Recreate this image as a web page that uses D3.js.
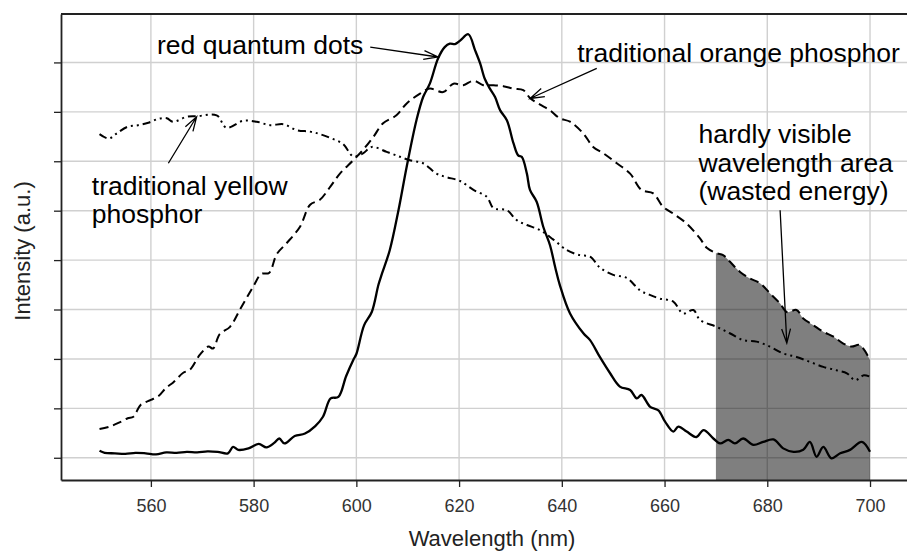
<!DOCTYPE html>
<html>
<head>
<meta charset="utf-8">
<script src="https://cdn.jsdelivr.net/npm/d3@7"></script>
<style>
  body{margin:0;background:#fff;}
  svg{display:block;font-family:"Liberation Sans",Arial,sans-serif;}
</style>
</head>
<body>
<svg id="chart" width="907" height="553"></svg>
<script>
// red quantum dots (solid)
const qdWl=[550,551,553,555,557,559,561,563,565,567,569,571,573,575,576,577,579,581,582.5,584,585,586,588,590,592,593.5,595,596.5,598,599.4,600,601.5,603,604.3,605,606.5,608.2,609.8,611.7,613,614.3,615.9,617.2,618.2,619.2,620.2,621.8,623.1,624.1,625,626,627,628,629.3,630.6,631.5,632.2,633.2,633.8,635.1,636.4,637.7,638.7,639.6,641.6,644.2,645.5,647.4,649.4,651.3,653.3,654.6,655.5,657.2,658.8,660.1,661.7,662.7,664.3,666.2,667.6,669.5,670.8,672.4,673.7,675.3,677.3,679.2,681.2,683.1,685.1,687,688.3,689.6,690.9,692.5,694.2,696.1,698.4,700];
const qdI=[0.14,0.1,0.09,0.08,0.1,0.09,0.07,0.11,0.1,0.12,0.11,0.13,0.12,0.09,0.22,0.16,0.19,0.28,0.21,0.3,0.39,0.29,0.44,0.49,0.64,0.83,1.2,1.23,1.65,1.98,2.1,2.68,2.95,3.5,3.73,4.2,5.01,5.89,6.83,7.3,7.57,8.08,8.31,8.38,8.37,8.44,8.57,8.25,7.98,7.67,7.47,7.3,7.03,6.83,6.36,6.12,6.09,5.75,5.42,5.18,4.67,4.3,3.86,3.5,2.92,2.52,2.38,2.04,1.71,1.44,1.37,1.2,1.27,1.03,0.96,0.73,0.53,0.63,0.53,0.42,0.56,0.39,0.29,0.36,0.29,0.39,0.26,0.32,0.37,0.19,0.12,0.16,0.32,0.02,0.22,-0.01,0.09,0.16,0.32,0.12];

// traditional orange phosphor (dashed)
const orWl=[550,552,554,555.5,556.6,558,560,561.5,563,564.3,566.3,567.6,569.5,571.2,572.1,573.4,575.4,577.3,579.9,581.5,583,584.5,586.4,589,591,592.9,594.9,596.8,599.4,601.3,603.3,605.2,607.8,609.8,612.4,614.3,616.9,618.9,620.8,622.8,624.7,626.7,628.6,630.6,632.5,633.8,635.7,637.7,639.6,641.6,644.2,646.1,648.1,650.7,653.3,655.5,657.8,659.7,661.7,664.3,666.9,668.2,670.1,671.4,672.7,674.7,676.6,678.6,680.5,682.5,683.8,685.7,687,689,690.9,692.9,694.8,696.4,698,700];
const orI=[0.58,0.63,0.72,0.8,0.83,1.07,1.17,1.25,1.42,1.52,1.72,1.78,2.08,2.25,2.21,2.5,2.65,2.99,3.46,3.72,3.74,4.12,4.34,4.67,5.12,5.22,5.48,5.75,6.02,6.23,6.49,6.77,6.93,7.17,7.37,7.47,7.4,7.57,7.54,7.63,7.54,7.54,7.52,7.47,7.44,7.28,7.15,7.03,6.87,6.8,6.56,6.29,6.16,5.96,5.75,5.42,5.35,5.08,4.94,4.74,4.44,4.25,4.14,4.1,3.97,3.76,3.63,3.53,3.33,3.12,2.95,2.99,2.82,2.68,2.55,2.45,2.31,2.25,2.28,1.98];

// traditional yellow phosphor (dot-dash)
const ylWl=[550,551.8,553.3,555.5,557.5,559.5,561.5,563.1,564.3,567,568.9,572.8,574.7,578,580.6,583.2,585.8,588.4,591,592.9,595.2,597.4,599.4,601.3,603,605.9,608.5,610.4,613,615.6,617.5,620.2,622.8,625.4,626.7,629.3,631.2,633.2,635.7,638.3,641,643.5,645.5,647.4,650,652.6,655.2,657,659.1,661.7,663.6,665.6,666.9,670.1,672.7,675.3,677.9,680.5,683.1,685.7,688.3,690.9,693.5,695.5,697.1,698.8,700];
const ylI=[6.55,6.46,6.56,6.7,6.73,6.78,6.86,6.87,6.8,6.9,6.91,6.93,6.68,6.82,6.8,6.73,6.75,6.63,6.6,6.55,6.46,6.35,6.1,6.16,6.29,6.19,6.09,6.02,5.96,5.75,5.68,5.6,5.42,5.28,5.05,5.01,4.81,4.71,4.61,4.42,4.2,4.1,4.07,3.85,3.7,3.64,3.39,3.3,3.22,3.16,2.92,2.99,2.79,2.65,2.52,2.38,2.35,2.25,2.11,2.04,1.94,1.84,1.77,1.71,1.57,1.67,1.64];

const xTicks=[560,580,600,620,640,660,680,700];
const yTicks=[0,1,2,3,4,5,6,7,8];
const shadeRange=[670,700];

const svg=d3.select("#chart");
const L=61,R=907,T=14,B=480;
const x=d3.scaleLinear().domain([542.5,707.2]).range([L,R]);
const y=d3.scaleLinear().domain([-0.45,8.98]).range([B,T]);

// grid
svg.append("g").selectAll("line").data(xTicks).join("line")
  .attr("x1",d=>x(d)).attr("x2",d=>x(d)).attr("y1",T).attr("y2",B)
  .attr("stroke","#d0d0d0").attr("stroke-width",1.4);
svg.append("g").selectAll("line").data(yTicks).join("line")
  .attr("x1",L).attr("x2",R).attr("y1",d=>y(d)).attr("y2",d=>y(d))
  .attr("stroke","#d0d0d0").attr("stroke-width",1.4);

const zip=(a,b)=>a.map((v,i)=>[v,b[i]]);
const qd=zip(qdWl,qdI), or=zip(orWl,orI), yl=zip(ylWl,ylI);
const smooth=d3.curveCatmullRom.alpha(0.5);

// shaded "wasted energy" region under orange curve
const orAt=w=>{const i=d3.bisectLeft(orWl,w);if(orWl[i]===w)return orI[i];const t=(w-orWl[i-1])/(orWl[i]-orWl[i-1]);return orI[i-1]+t*(orI[i]-orI[i-1]);};
const shade=[[shadeRange[0],orAt(shadeRange[0])]].concat(or.filter(d=>d[0]>shadeRange[0]&&d[0]<=shadeRange[1]));
svg.append("path").datum(shade)
  .attr("d",d3.area().curve(smooth).x(d=>x(d[0])).y0(B).y1(d=>y(d[1])))
  .attr("fill","#000").attr("fill-opacity",0.5);

const line=d3.line().curve(smooth).x(d=>x(d[0])).y(d=>y(d[1]));
svg.append("path").datum(or).attr("d",line).attr("fill","none")
  .attr("stroke","#000").attr("stroke-width",2).attr("stroke-dasharray","9,5");
svg.append("path").datum(yl).attr("d",line).attr("fill","none")
  .attr("stroke","#000").attr("stroke-width",2).attr("stroke-dasharray","8,4,2,4,2,4");
svg.append("path").datum(qd).attr("d",line).attr("fill","none")
  .attr("stroke","#000").attr("stroke-width",2.3).attr("stroke-linejoin","round");

// axes
const xAxis=svg.append("g").attr("transform","translate(0,"+B+")")
  .call(d3.axisBottom(x).tickValues(xTicks).tickSize(7).tickSizeOuter(0).tickPadding(12));
const yAxis=svg.append("g").attr("transform","translate("+L+",0)")
  .call(d3.axisLeft(y).tickValues(yTicks).tickSize(7).tickSizeOuter(0).tickFormat(""));
[xAxis,yAxis].forEach(a=>{
  a.select(".domain").attr("stroke","#222").attr("stroke-width",1.8);
  a.selectAll(".tick line").attr("stroke","#222").attr("stroke-width",1.3);
  a.selectAll(".tick text").attr("fill","#333").style("font-size","18px").style("font-family","'Liberation Sans',Arial,sans-serif");
});
svg.append("line").attr("x1",L).attr("x2",R).attr("y1",T).attr("y2",T)
  .attr("stroke","#222").attr("stroke-width",1.8);

svg.append("text").attr("x",492).attr("y",546).attr("text-anchor","middle")
  .attr("fill","#222").style("font-size","22px").text("Wavelength (nm)");
svg.append("text").attr("transform","translate(30,251) rotate(-90)").attr("text-anchor","middle")
  .attr("fill","#222").style("font-size","22px").text("Intensity (a.u.)");

// annotations (data coordinates)
const notes=[
  {lines:["red quantum dots"],at:[561.2,8.18],from:[602.7,8.31],to:[615.9,8.11]},
  {lines:["traditional orange phosphor"],at:[643.0,8.0],from:[646.8,7.88],to:[633.8,7.27]},
  {lines:["traditional yellow","phosphor"],at:[548.5,5.32],from:[563.4,5.96],to:[568.9,6.9]},
  {lines:["hardly visible","wavelength area","(wasted energy)"],at:[666.6,6.36],from:[682.5,5.01],to:[683.8,2.32]}
];
notes.forEach(n=>{
  const t=svg.append("text").attr("x",x(n.at[0])).attr("y",y(n.at[1]))
    .attr("fill","#000").style("font-size","26.5px");
  n.lines.forEach((s,i)=>t.append("tspan").attr("x",x(n.at[0])).attr("dy",i?28.5:0).text(s));
  const x1=x(n.from[0]),y1=y(n.from[1]),x2=x(n.to[0]),y2=y(n.to[1]);
  const a=Math.atan2(y2-y1,x2-x1),h=15,w=0.3;
  svg.append("path")
    .attr("d","M"+x1+","+y1+"L"+x2+","+y2+
      "M"+(x2-h*Math.cos(a-w))+","+(y2-h*Math.sin(a-w))+"L"+x2+","+y2+
      "L"+(x2-h*Math.cos(a+w))+","+(y2-h*Math.sin(a+w)))
    .attr("fill","none").attr("stroke","#000").attr("stroke-width",1.3);
});
</script>
</body>
</html>
